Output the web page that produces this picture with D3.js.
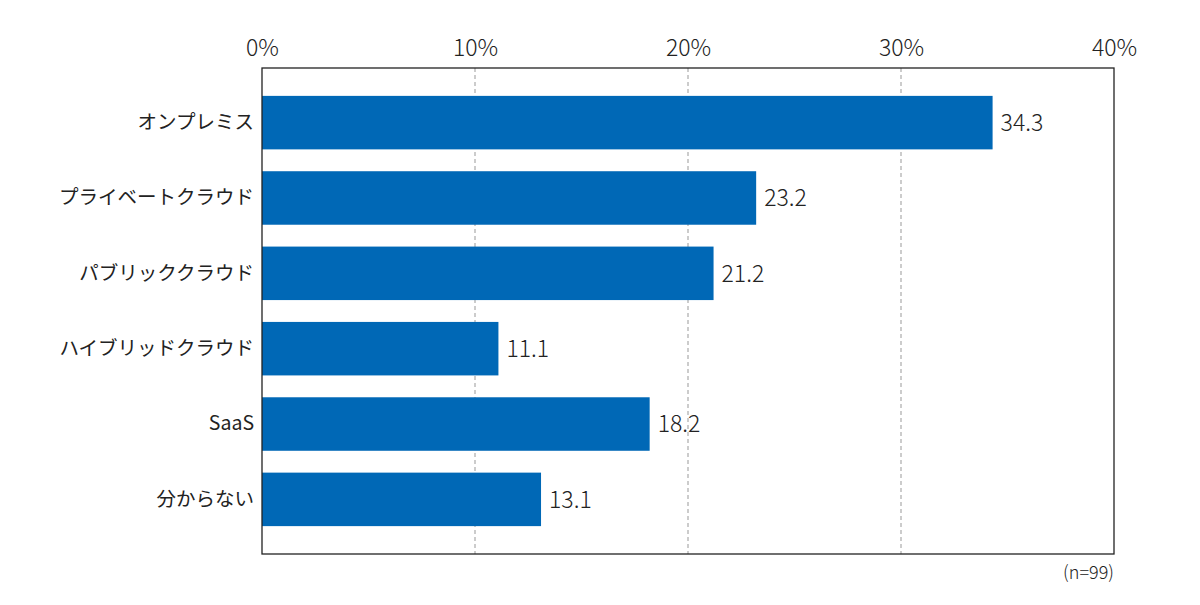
<!DOCTYPE html>
<html>
<head>
<meta charset="utf-8">
<script src="https://cdn.jsdelivr.net/npm/d3@7"></script>
<style>
  body { margin: 0; background: #fff; }
  text { font-family: "Noto Sans CJK JP", "Noto Sans", sans-serif; font-weight: 300; fill: #222; }
</style>
</head>
<body>
<div id="chart"></div>
<script>
// categories and values (%)
const categories = ["オンプレミス", "プライベートクラウド", "パブリッククラウド", "ハイブリッドクラウド", "SaaS", "分からない"];
const values = [34.3, 23.2, 21.2, 11.1, 18.2, 13.1];
const ticks = [0, 10, 20, 30, 40];
const note = "(n=99)";

const width = 1200, height = 605;
const margin = { top: 68, right: 86, bottom: 51, left: 262 };
const font = '"Noto Sans CJK JP", "Noto Sans", sans-serif';

const svg = d3.select("#chart").append("svg")
  .attr("width", width)
  .attr("height", height);

const x = d3.scaleLinear()
  .domain([0, 40])
  .range([margin.left, width - margin.right]);

const y = d3.scaleBand()
  .domain(categories)
  .range([margin.top, height - margin.bottom])
  .paddingInner(0.29)
  .paddingOuter(0.37);

// dashed grid lines
svg.append("g")
  .selectAll("line")
  .data(ticks.slice(1, -1))
  .join("line")
  .attr("x1", d => x(d)).attr("x2", d => x(d))
  .attr("y1", margin.top).attr("y2", height - margin.bottom)
  .attr("stroke", "#999")
  .attr("stroke-width", 1)
  .attr("stroke-dasharray", "4,3");

// bars
svg.append("g")
  .selectAll("rect")
  .data(values)
  .join("rect")
  .attr("x", x(0))
  .attr("y", (d, i) => y(categories[i]))
  .attr("width", d => x(d) - x(0))
  .attr("height", y.bandwidth())
  .attr("fill", "#0068b6");

// value labels
svg.append("g")
  .selectAll("text")
  .data(values)
  .join("text")
  .attr("x", d => x(d) + 8)
  .attr("y", (d, i) => y(categories[i]) + y.bandwidth() / 2)
  .attr("dy", "0.36em")
  .attr("font-size", 23)
  .text(d => d.toFixed(1));

// frame
svg.append("rect")
  .attr("x", margin.left)
  .attr("y", margin.top)
  .attr("width", x(40) - x(0))
  .attr("height", height - margin.bottom - margin.top)
  .attr("fill", "none")
  .attr("stroke", "#222")
  .attr("stroke-width", 1.3);

// top axis labels
const xAxis = d3.axisTop(x)
  .tickValues(ticks)
  .tickFormat(d => d + "%")
  .tickSize(0)
  .tickPadding(12);
svg.append("g")
  .attr("transform", `translate(0,${margin.top})`)
  .call(xAxis)
  .call(g => g.select(".domain").remove())
  .selectAll("text")
  .attr("font-size", 23)
  .style("font-family", font)
  .style("font-weight", 300)
  .attr("fill", "#222");

// category labels
const yAxis = d3.axisLeft(y).tickSize(0).tickPadding(8);
svg.append("g")
  .attr("transform", `translate(${margin.left},0)`)
  .call(yAxis)
  .call(g => g.select(".domain").remove())
  .selectAll("text")
  .attr("font-size", 19.5)
  .style("font-family", font)
  .style("font-weight", 400)
  .attr("fill", "#222");

// sample size note
svg.append("text")
  .attr("x", x(40))
  .attr("y", height - margin.bottom + 25)
  .attr("text-anchor", "end")
  .attr("font-size", 18)
  .text(note);
</script>
</body>
</html>
